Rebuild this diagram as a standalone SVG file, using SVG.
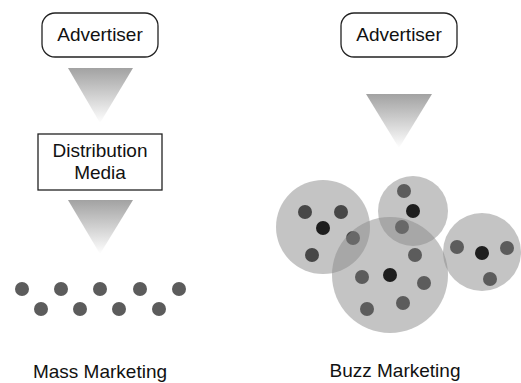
<svg xmlns="http://www.w3.org/2000/svg" width="521" height="383" viewBox="0 0 521 383">
  <style>
    .label { font-family: "Liberation Sans", Arial, sans-serif; font-size: 19px; fill: #111; text-anchor: middle; }
    .box { fill: #fff; stroke: #222; stroke-width: 1.3; }
    .funnel { fill: url(#fade); }
    .dot { fill: #5c5c5c; }
    .dot-deep { fill: #474747; }
    .dot-soft { fill: #6c6c6c; }
    .hub { fill: #1e1e1e; }
    .group { fill: #8a8a8a; fill-opacity: 0.5; }
  </style>
  <defs>
    <linearGradient id="fade" x1="0" y1="0" x2="0" y2="1">
      <stop offset="0" stop-color="#a2a2a2"/>
      <stop offset="1" stop-color="#ffffff"/>
    </linearGradient>
  </defs>

  <!-- Mass marketing -->
  <g id="mass-advertiser">
    <rect class="box" x="42" y="13" width="116" height="44" rx="13"/>
    <text class="label" x="100" y="41">Advertiser</text>
  </g>
  <g id="distribution-media">
    <rect class="box" x="38" y="134" width="124" height="56"/>
    <text class="label" x="100" y="157">Distribution</text>
    <text class="label" x="100" y="179">Media</text>
  </g>
  <g id="connectors">
    <polygon class="funnel" points="68,68 133,68 100,123"/>
    <polygon class="funnel" points="68,200 133,200 100,254"/>
    <polygon class="funnel" points="366,94 432,94 399,148"/>
  </g>
  <g id="mass-audience">
    <circle class="dot" cx="22" cy="289" r="7"/>
    <circle class="dot" cx="61" cy="289" r="7"/>
    <circle class="dot" cx="100" cy="289" r="7"/>
    <circle class="dot" cx="140" cy="289" r="7"/>
    <circle class="dot" cx="179" cy="289" r="7"/>
    <circle class="dot" cx="41" cy="309" r="7"/>
    <circle class="dot" cx="80" cy="309" r="7"/>
    <circle class="dot" cx="119" cy="309" r="7"/>
    <circle class="dot" cx="159" cy="309" r="7"/>
  </g>
  <text class="label" x="100" y="378">Mass Marketing</text>

  <!-- Buzz marketing -->
  <g id="buzz-advertiser">
    <rect class="box" x="341" y="13" width="116" height="44" rx="13"/>
    <text class="label" x="399" y="41">Advertiser</text>
  </g>
  <g id="cluster-left">
    <circle class="group" cx="323" cy="227" r="47"/>
    <circle class="dot-deep" cx="305" cy="212" r="7"/>
    <circle class="dot-deep" cx="341" cy="212" r="7"/>
    <circle class="hub" cx="323" cy="228" r="7"/>
    <circle class="dot-deep" cx="312" cy="255" r="7"/>
    <circle class="dot-deep" cx="353" cy="238" r="7"/>
  </g>
  <g id="cluster-top">
    <circle class="group" cx="413" cy="211" r="35"/>
    <circle class="dot" cx="404" cy="191" r="7"/>
    <circle class="hub" cx="413" cy="211" r="7"/>
    <circle class="dot-deep" cx="402" cy="227" r="7"/>
  </g>
  <g id="cluster-center">
    <circle class="group" cx="390" cy="275" r="58"/>
    <circle class="dot" cx="415" cy="255" r="7"/>
    <circle class="dot" cx="362" cy="277" r="7"/>
    <circle class="hub" cx="390" cy="275" r="7"/>
    <circle class="dot" cx="424" cy="283" r="7"/>
    <circle class="dot" cx="367" cy="309" r="7"/>
    <circle class="dot" cx="403" cy="303" r="7"/>
  </g>
  <g id="cluster-right">
    <circle class="group" cx="482" cy="252" r="39"/>
    <circle class="dot" cx="457" cy="247" r="7"/>
    <circle class="hub" cx="482" cy="253" r="7"/>
    <circle class="dot" cx="507" cy="248" r="7"/>
    <circle class="dot" cx="490" cy="279" r="7"/>
  </g>
  <text class="label" x="395" y="377">Buzz Marketing</text>
</svg>
